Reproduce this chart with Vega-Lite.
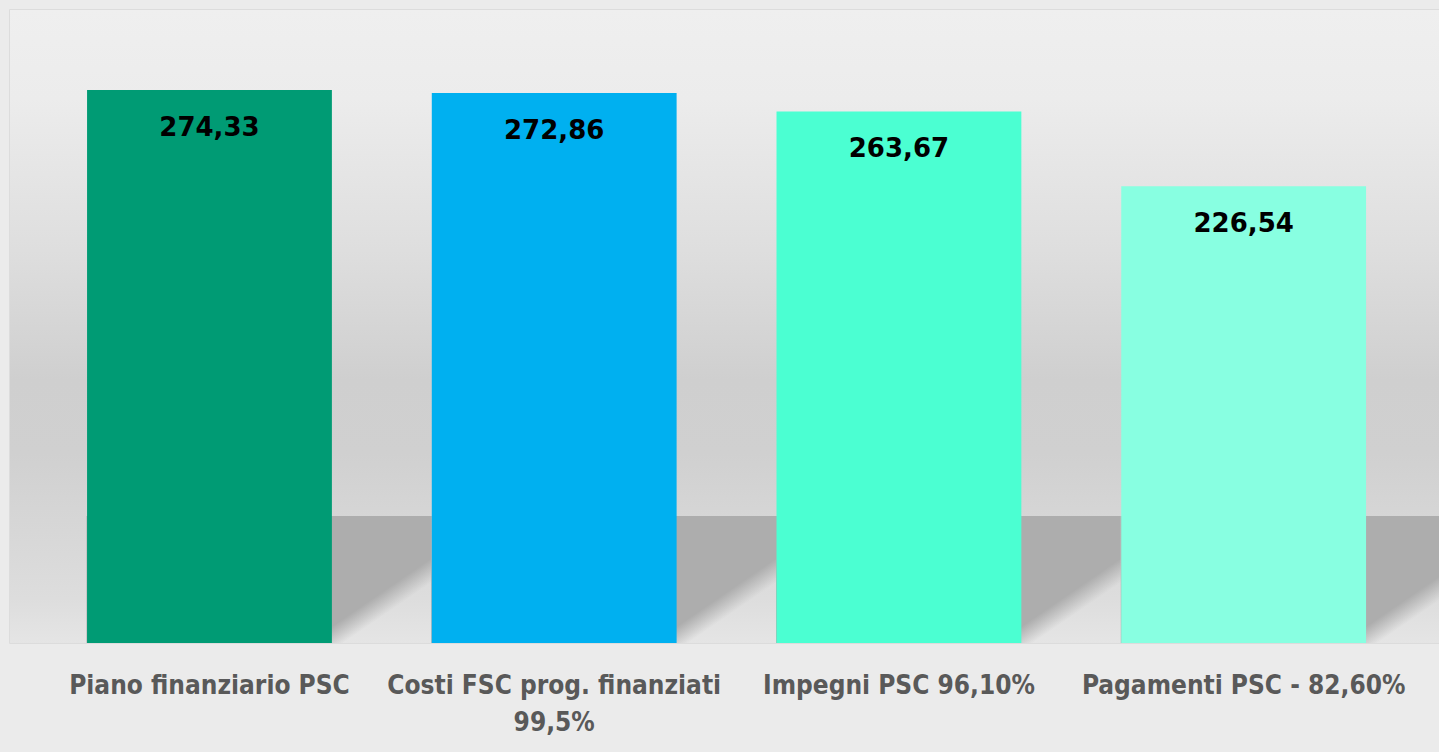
{
  "$schema": "https://vega.github.io/schema/vega-lite/v6.json",
  "width": 1430,
  "height": 634,
  "autosize": "none",
  "padding": {"left": 9, "top": 9, "right": 0, "bottom": 109},
  "background": "#ebebeb",
  "config": {
    "view": {
      "stroke": "#dcdcdc",
      "strokeWidth": 1,
      "fill": {
        "gradient": "linear",
        "x1": 0, "y1": 0, "x2": 0, "y2": 1,
        "stops": [
          {"offset": 0, "color": "#efefef"},
          {"offset": 0.14, "color": "#ececec"},
          {"offset": 0.38, "color": "#dedede"},
          {"offset": 0.585, "color": "#cfcfcf"},
          {"offset": 0.7, "color": "#d0d0d0"},
          {"offset": 0.77, "color": "#d4d4d4"},
          {"offset": 0.93, "color": "#dddddd"},
          {"offset": 1, "color": "#e5e5e5"}
        ]
      }
    },
    "axis": {
      "labelFont": "Liberation Sans Narrow, DejaVu Sans Condensed, sans-serif",
      "labelFontSize": 26,
      "labelFontWeight": "bold",
      "labelColor": "#595959",
      "labelLineHeight": 37,
      "domain": false,
      "ticks": false,
      "grid": false
    }
  },
  "data": {
    "values": [
      {"cat": "Piano finanziario PSC", "value": 274.33, "label": "274,33"},
      {"cat": "Costi FSC prog. finanziati|99,5%", "value": 272.86, "label": "272,86"},
      {"cat": "Impegni PSC 96,10%", "value": 263.67, "label": "263,67"},
      {"cat": "Pagamenti PSC - 82,60%", "value": 226.54, "label": "226,54"}
    ]
  },
  "layer": [
    {
      "mark": {
        "type": "bar",
        "clip": true,
        "width": {"band": 10},
        "color": {
          "gradient": "linear",
          "x1": 0, "y1": 0, "x2": 1, "y2": 0.537,
          "stops": [
            {"offset": 0, "color": "#adadad"},
            {"offset": 0.915, "color": "#adadad"},
            {"offset": 0.995, "color": "rgba(173,173,173,0)"},
            {"offset": 1, "color": "rgba(173,173,173,0)"}
          ]
        }
      },
      "encoding": {
        "x": {
          "field": "cat", "type": "nominal", "sort": null, "axis": null,
          "scale": {"paddingInner": 0.9, "paddingOuter": 0.524, "align": 0.644}
        },
        "y": {"datum": 63, "type": "quantitative", "scale": {"domain": [0, 314.5], "nice": false}, "axis": null}
      }
    },
    {
      "layer": [
        {
          "mark": {"type": "bar"},
          "encoding": {
            "x": {
              "field": "cat", "type": "nominal", "sort": null, "title": null,
              "scale": {"paddingInner": 0.2898, "paddingOuter": 0.219, "align": 0.517},
              "axis": {"labelAngle": 0, "labelPadding": 29, "labelLimit": 0, "labelExpr": "split(datum.label, '|')"}
            },
            "y": {"field": "value", "type": "quantitative", "scale": {"domain": [0, 314.5], "nice": false}, "axis": null},
            "color": {
              "field": "cat", "type": "nominal", "legend": null, "sort": null,
              "scale": {"range": ["#009b74", "#00b0f0", "#4bffd2", "#88ffe1"]}
            }
          }
        },
        {
          "mark": {"type": "text", "font": "DejaVu Sans", "fontSize": 26, "fontWeight": "bold", "color": "#000000", "baseline": "middle", "dy": 38},
          "encoding": {
            "x": {"field": "cat", "type": "nominal", "sort": null},
            "y": {"field": "value", "type": "quantitative"},
            "text": {"field": "label"}
          }
        }
      ]
    }
  ],
  "resolve": {"scale": {"x": "independent"}}
}
